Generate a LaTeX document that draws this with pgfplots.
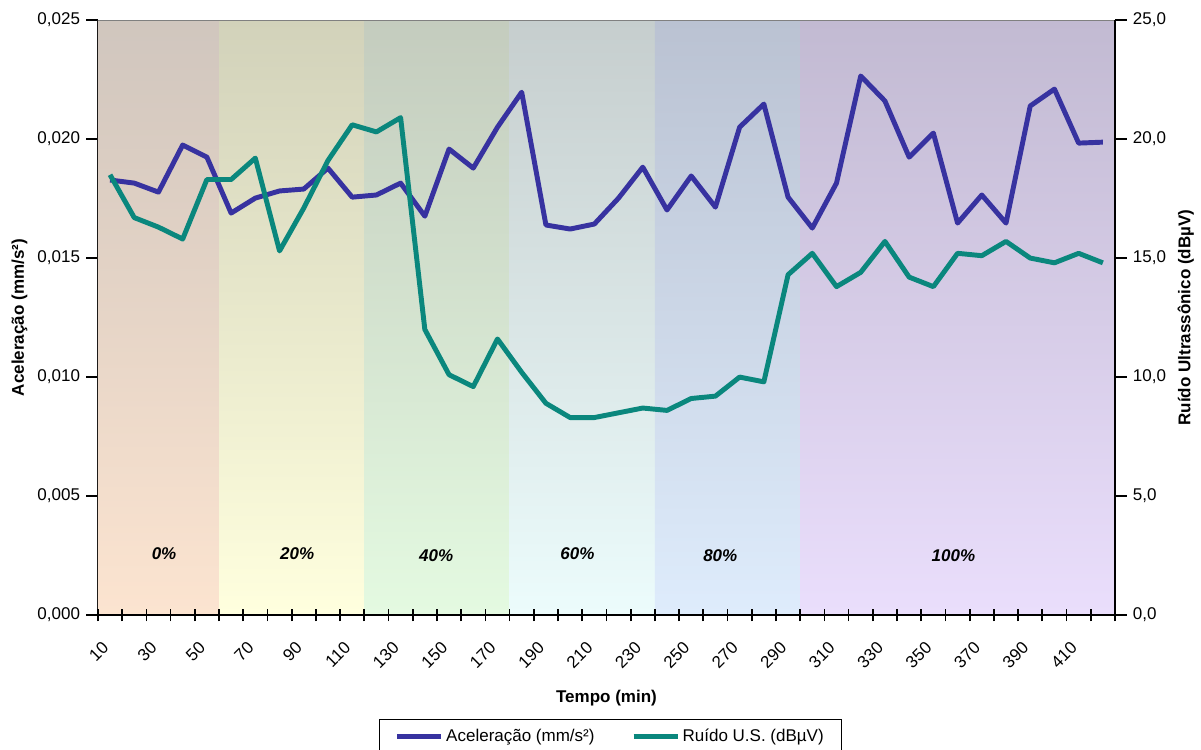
\documentclass[border=0pt]{standalone}
\usepackage{fontspec}
\setmainfont{Liberation Sans}
\usepackage{pgfplots}
\pgfplotsset{compat=1.18}
\usepackage{pgfplotstable}

\definecolor{accblue}{RGB}{55,50,160}
\definecolor{noiseteal}{RGB}{10,135,125}
\definecolor{b0t}{RGB}{208,198,190}\definecolor{b0b}{RGB}{252,228,208}
\definecolor{b1t}{RGB}{210,210,186}\definecolor{b1b}{RGB}{255,255,222}
\definecolor{b2t}{RGB}{196,204,190}\definecolor{b2b}{RGB}{228,250,225}
\definecolor{b3t}{RGB}{198,206,206}\definecolor{b3b}{RGB}{236,252,252}
\definecolor{b4t}{RGB}{186,194,210}\definecolor{b4b}{RGB}{222,236,252}
\definecolor{b5t}{RGB}{194,186,210}\definecolor{b5b}{RGB}{234,222,252}

% i = category index (0 -> 10 min, 1 -> 20 min, ...)
\pgfplotstableread{
i  acc
0  0.01828
1  0.01815
2  0.01777
3  0.01975
4  0.01924
5  0.01689
6  0.01752
7  0.01782
8  0.01790
9  0.01878
10 0.01756
11 0.01765
12 0.01815
13 0.01676
14 0.01958
15 0.01878
16 0.02050
17 0.02197
18 0.01639
19 0.01622
20 0.01643
21 0.01752
22 0.01882
23 0.01702
24 0.01845
25 0.01714
26 0.02050
27 0.02147
28 0.01756
29 0.01626
30 0.01815
31 0.02265
32 0.02160
33 0.01924
34 0.02025
35 0.01647
36 0.01765
37 0.01647
38 0.02139
39 0.02210
40 0.01983
41 0.01987
}\acctable

\pgfplotstableread{
i  db
0  18.5
1  16.7
2  16.3
3  15.8
4  18.3
5  18.3
6  19.2
7  15.3
8  17.1
9  19.1
10 20.6
11 20.3
12 20.9
13 12.0
14 10.1
15 9.6
16 11.6
17 10.2
18 8.9
19 8.3
20 8.3
21 8.5
22 8.7
23 8.6
24 9.1
25 9.2
26 10.0
27 9.8
28 14.3
29 15.2
30 13.8
31 14.4
32 15.7
33 14.2
34 13.8
35 15.2
36 15.1
37 15.7
38 15.0
39 14.8
40 15.2
41 14.8
}\noisetable

\pgfplotsset{
  common/.style={
    width=598.2pt, height=350pt, scale only axis,
    xmin=-0.5, xmax=41.5,
    font=\fontsize{10}{12}\selectfont,
    /pgf/number format/assume math mode=true,
    tick style={draw=black, line width=1pt},
  },
}

\begin{document}
\begin{tikzpicture}
\path[use as bounding box] (-57.6pt,-78.8pt) rectangle (648.8pt,361.8pt);

\begin{axis}[common,
    axis x line*=bottom, axis y line*=left,
    axis line style={black, line width=0.8pt},
    ymin=0, ymax=0.025,
    ytick={0,0.005,0.01,0.015,0.02,0.025},
    scaled y ticks=false,
    yticklabel style={/pgf/number format/.cd, fixed, fixed zerofill, precision=3, use comma},
    ytick align=outside, major tick length=7pt,
    % ticks on the category borders, labels shifted to the category centres
    xtick={-0.5,0.5,...,41.5},
    xticklabels={10,,30,,50,,70,,90,,110,,130,,150,,170,,190,,210,,230,,250,,270,,290,,310,,330,,350,,370,,390,,410,,},
    xtick align=center,
    xticklabel style={rotate=45, anchor=north east, xshift=-3.4pt, yshift=-6pt},
    xlabel={\bfseries Tempo (min)},
    ylabel={\bfseries Aceleração (mm/s²)},
    xlabel style={yshift=-4pt},
    ylabel style={yshift=-1pt},
  ]
  \fill[top color=b0t, bottom color=b0b] (axis cs:-0.5,0) rectangle (axis cs:4.5,0.025);
  \fill[top color=b1t, bottom color=b1b] (axis cs:4.5,0) rectangle (axis cs:10.5,0.025);
  \fill[top color=b2t, bottom color=b2b] (axis cs:10.5,0) rectangle (axis cs:16.5,0.025);
  \fill[top color=b3t, bottom color=b3b] (axis cs:16.5,0) rectangle (axis cs:22.5,0.025);
  \fill[top color=b4t, bottom color=b4b] (axis cs:22.5,0) rectangle (axis cs:28.5,0.025);
  \fill[top color=b5t, bottom color=b5b] (axis cs:28.5,0) rectangle (axis cs:41.5,0.025);
  \draw[gray, line width=0.8pt] (rel axis cs:0,1) -- (rel axis cs:1,1);

  \addplot[color=accblue, line width=2.9pt, line join=round] table[x=i, y=acc]{\acctable};

  \node[font=\bfseries\itshape] at (axis cs:2.23,0.0026) {0\%};
  \node[font=\bfseries\itshape] at (axis cs:7.73,0.0026) {20\%};
  \node[font=\bfseries\itshape] at (axis cs:13.47,0.0025) {40\%};
  \node[font=\bfseries\itshape] at (axis cs:19.3,0.0026) {60\%};
  \node[font=\bfseries\itshape] at (axis cs:25.2,0.0025) {80\%};
  \node[font=\bfseries\itshape] at (axis cs:34.83,0.0025) {100\%};
\end{axis}

\begin{axis}[common,
    axis x line*=bottom, axis y line*=right,
    axis line style={black, line width=0.8pt},
    xtick={-0.5,0.5,...,41.5}, xticklabels={},
    xtick align=center,
    ymin=0, ymax=25,
    ytick={0,5,...,25},
    yticklabel style={/pgf/number format/.cd, fixed, fixed zerofill, precision=1, use comma},
    ytick align=outside, major tick length=7pt,
    ylabel={\bfseries Ruído Ultrassônico (dBµV)},
    legend image code/.code={\draw[#1, line width=2.9pt] (0pt,0pt) -- (25.9pt,0pt);},
    legend style={at={(0.504,0)}, anchor=north, yshift=-61pt,
      draw=black, line width=0.6pt, legend columns=2,
      font=\fontsize{10}{12}\selectfont,
      inner xsep=9pt, inner ysep=4pt,
      nodes={inner sep=1.5pt},
      /tikz/every even column/.append style={column sep=20pt}},
  ]
  \addlegendimage{color=accblue}
  \addlegendentry{Aceleração (mm/s²)}
  \addplot[color=noiseteal, line width=2.9pt, line join=round] table[x=i, y=db]{\noisetable};
  \addlegendentry{Ruído U.S. (dBµV)}
\end{axis}
\end{tikzpicture}
\end{document}
